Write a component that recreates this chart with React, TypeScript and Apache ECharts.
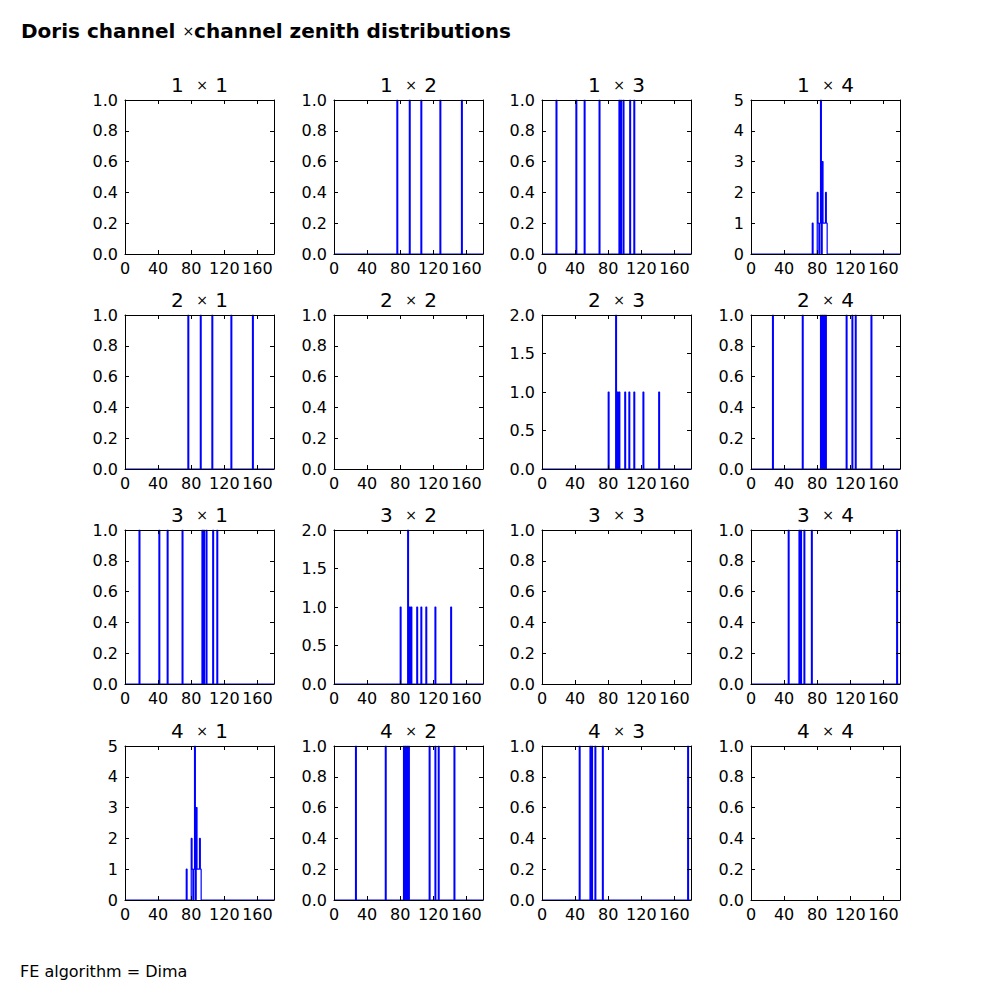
import React, { useEffect, useRef } from "react";
import * as echarts from "echarts";

// ---- data ----
const channels = [1, 2, 3, 4];
const xTicks = [0, 40, 80, 120, 160];
const xMax = 180;
const binWidth = 1;

// zenith angle samples (degrees) for each channel pair (symmetric: i×j == j×i)
const zen12 = [76.5, 91.5, 105.5, 128.5, 154.5];
const zen13 = [17.5, 41.5, 51.5, 69.5, 93.5, 95.5, 98.5, 106.5, 111.5];
const zen14 = [
  74.5, 80.5, 80.5, 81.5, 83.5, 84.5, 84.5, 84.5, 84.5, 84.5,
  86.5, 86.5, 86.5, 87.5, 88.5, 89.5, 90.5, 90.5, 91.5,
];
const zen23 = [80.5, 89.5, 89.5, 91.5, 93.5, 100.5, 105.5, 111.5, 122.5, 141.5];
const zen24 = [26.5, 62.5, 84.5, 86.5, 88.5, 90.5, 115.5, 122.5, 126.5, 145.5];
const zen34 = [45.5, 58.5, 60.5, 64.5, 73.5, 176.5];
const zenDiag: number[] = [];

const pairSamples: Record<string, number[]> = {
  "1-1": zenDiag, "1-2": zen12, "1-3": zen13, "1-4": zen14,
  "2-1": zen12, "2-2": zenDiag, "2-3": zen23, "2-4": zen24,
  "3-1": zen13, "3-2": zen23, "3-3": zenDiag, "3-4": zen34,
  "4-1": zen14, "4-2": zen24, "4-3": zen34, "4-4": zenDiag,
};

// ---- layout ----
const colLeft = [125, 334, 542, 751];
const rowTop = [100, 315, 530, 746];
const panelW = 149;
const panelH = 154;
const FONT = "DejaVu Sans";
const BLUE = "#0000ff";

function histogram(samples: number[]) {
  const nBins = Math.round(xMax / binWidth);
  const counts = new Array(nBins).fill(0);
  samples.forEach((v) => {
    const b = Math.floor(v / binWidth);
    if (b >= 0 && b < nBins) counts[b] += 1;
  });
  return counts;
}

function yScale(maxCount: number) {
  const yMax = Math.max(1, maxCount);
  let step = 1;
  if (yMax <= 1) step = 0.2;
  else if (yMax <= 2) step = 0.5;
  return { yMax, step };
}

function buildOption() {
  const grid: any[] = [];
  const xAxis: any[] = [];
  const yAxis: any[] = [];
  const series: any[] = [];
  const graphic: any[] = [];

  const tickStyle = { inside: true, length: 4, lineStyle: { color: "#000", width: 1 } };
  const lineStyle = { onZero: false, lineStyle: { color: "#000", width: 1 } };
  const labelBase = { color: "#000", fontFamily: FONT, fontSize: 16 };

  let k = 0;
  channels.forEach((ci, r) => {
    channels.forEach((cj, c) => {
      const samples = pairSamples[`${ci}-${cj}`];
      const counts = histogram(samples);
      const { yMax, step } = yScale(Math.max(0, ...counts));
      grid.push({ left: colLeft[c], top: rowTop[r], width: panelW, height: panelH, containLabel: false });

      const xCommon = {
        type: "value", gridIndex: k, min: 0, max: xMax, interval: xTicks[1] - xTicks[0], z: 5,
        splitLine: { show: false }, axisTick: tickStyle, axisLine: lineStyle,
      };
      xAxis.push({ ...xCommon, position: "bottom", axisLabel: { ...labelBase, margin: 6, showMaxLabel: false } });
      xAxis.push({ ...xCommon, position: "top", axisLabel: { show: false } });

      const yCommon = {
        type: "value", gridIndex: k, min: 0, max: yMax, interval: step, z: 5,
        splitLine: { show: false }, axisTick: tickStyle, axisLine: lineStyle,
      };
      yAxis.push({
        ...yCommon, position: "left",
        axisLabel: {
          ...labelBase, margin: 7,
          formatter: (v: number) => (step < 1 ? v.toFixed(1) : String(Math.round(v))),
        },
      });
      yAxis.push({ ...yCommon, position: "right", axisLabel: { show: false } });

      if (samples.length > 0) {
        const data: number[][] = [[0, 0]];
        counts.forEach((cnt, i) => data.push([i * binWidth, cnt]));
        data.push([xMax, counts[counts.length - 1]]);
        data.push([xMax, 0]);
        series.push({
          type: "line", xAxisIndex: 2 * k, yAxisIndex: 2 * k, data, step: "end",
          showSymbol: false, symbol: "none", clip: true, z: 1,
          lineStyle: { color: BLUE, width: 1.2 }, silent: true,
        });
      }

      graphic.push({
        type: "text", x: colLeft[c] + panelW / 2, y: rowTop[r] - 15,
        style: {
          text: `{n|${ci} }{x|×}{n| ${cj}}`,
          textAlign: "center", textVerticalAlign: "middle",
          rich: {
            n: { fontFamily: FONT, fontSize: 20, fill: "#000" },
            x: { fontFamily: FONT, fontSize: 14, fill: "#000", padding: [0, 1, 0, 6] },
          },
        },
      });
      k++;
    });
  });

  graphic.push({
    type: "text", x: 21, y: 31,
    style: {
      text: "{b|Doris channel }{x|×}{b|channel zenith distributions}",
      textAlign: "left", textVerticalAlign: "middle",
      rich: {
        b: { fontFamily: FONT, fontSize: 20, fontWeight: "bold", fill: "#000" },
        x: { fontFamily: FONT, fontSize: 14, fill: "#000" },
      },
    },
  });
  graphic.push({
    type: "text", x: 20, y: 971,
    style: {
      text: "FE algorithm = Dima", textAlign: "left", textVerticalAlign: "middle",
      fontFamily: FONT, fontSize: 16, fill: "#000",
    },
  });

  return { animation: false, backgroundColor: "#ffffff", grid, xAxis, yAxis, series, graphic };
}

export default function App() {
  const ref = useRef<HTMLDivElement>(null);
  useEffect(() => {
    const chart = echarts.init(ref.current!, null, { renderer: "svg" });
    chart.setOption(buildOption() as any);
    return () => chart.dispose();
  }, []);
  return (
    <div
      ref={ref}
      style={{ position: "absolute", left: 0, top: 0, width: 1000, height: 1000, background: "#fff" }}
    />
  );
}
